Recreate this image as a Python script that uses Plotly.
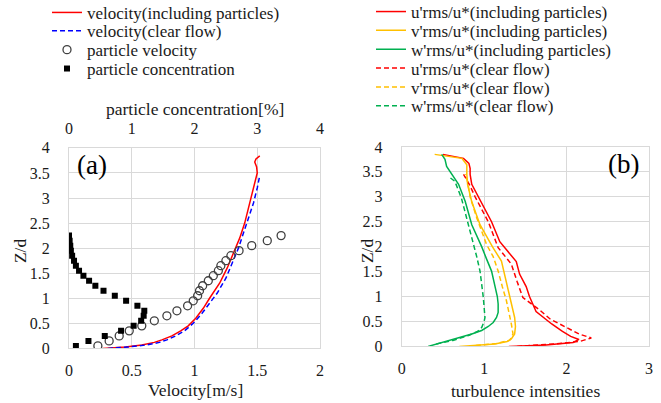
import plotly.graph_objects as go

# screenshot size; the figure is shifted TOP px above the window so the legends can sit at the very top
SW, SH = 661, 403
TOP = 6
W, H = SW, SH + TOP

# ---------------- Panel (a) data ----------------
z_vel_incl = [0.0, 0.03, 0.07, 0.12, 0.17, 0.25, 0.35, 0.45, 0.6, 0.8, 1.0, 1.3, 1.6, 1.9, 2.2, 2.5, 2.8, 3.1, 3.3, 3.5, 3.62, 3.72, 3.78, 3.84]
v_vel_incl = [0.27, 0.45, 0.58, 0.68, 0.74, 0.82, 0.89, 0.95, 1.01, 1.07, 1.12, 1.20, 1.26, 1.31, 1.36, 1.40, 1.43, 1.46, 1.485, 1.50, 1.495, 1.48, 1.49, 1.52]

z_vel_clear = [0.0, 0.03, 0.07, 0.12, 0.17, 0.25, 0.35, 0.5, 0.7, 0.9, 1.1, 1.4, 1.7, 2.0, 2.3, 2.6, 2.9, 3.2, 3.45]
v_vel_clear = [0.31, 0.48, 0.62, 0.72, 0.78, 0.85, 0.92, 0.99, 1.06, 1.12, 1.18, 1.25, 1.30, 1.35, 1.39, 1.43, 1.47, 1.50, 1.52]

z_particle = [0.05, 0.15, 0.25, 0.35, 0.45, 0.55, 0.65, 0.75, 0.85, 0.95, 1.05, 1.15, 1.25, 1.35, 1.45, 1.55, 1.65, 1.75, 1.85, 1.95, 2.05, 2.15, 2.25]
v_particle = [0.23, 0.32, 0.40, 0.48, 0.58, 0.68, 0.78, 0.86, 0.945, 0.99, 1.025, 1.04, 1.065, 1.11, 1.15, 1.19, 1.21, 1.25, 1.29, 1.355, 1.456, 1.58, 1.69]
c_particle = [0.11, 0.31, 0.57, 0.83, 1.03, 1.15, 1.19, 1.20, 1.09, 0.91, 0.73, 0.55, 0.42, 0.32, 0.23, 0.16, 0.11, 0.08, 0.05, 0.03, 0.02, 0.01, 0.0]

# ---------------- Panel (b) data ----------------
z_u_incl = [0.0, 0.03, 0.08, 0.14, 0.2, 0.3, 0.45, 0.6, 0.7, 0.85, 1.0, 1.2, 1.45, 1.7, 1.95, 2.1, 2.5, 3.0, 3.25, 3.45, 3.57, 3.67, 3.77, 3.85]
t_u_incl = [1.30, 1.75, 2.08, 2.15, 2.05, 1.95, 1.82, 1.70, 1.63, 1.59, 1.55, 1.51, 1.43, 1.39, 1.27, 1.19, 1.09, 0.93, 0.85, 0.83, 0.83, 0.815, 0.75, 0.50]

z_v_incl = [0.0, 0.02, 0.05, 0.1, 0.15, 0.25, 0.4, 0.58, 0.8, 1.12, 1.4, 1.71, 2.0, 2.44, 2.9, 3.24, 3.45, 3.64, 3.77, 3.85]
t_v_incl = [0.70, 0.85, 1.13, 1.28, 1.33, 1.37, 1.38, 1.37, 1.34, 1.29, 1.25, 1.21, 1.10, 0.95, 0.85, 0.80, 0.79, 0.79, 0.73, 0.40]

z_w_incl = [0.0, 0.05, 0.09, 0.14, 0.19, 0.25, 0.32, 0.4, 0.48, 0.58, 0.68, 0.85, 1.0, 1.25, 1.51, 1.75, 2.0, 2.44, 2.91, 3.25, 3.45, 3.61, 3.75, 3.85]
t_w_incl = [0.32, 0.43, 0.525, 0.63, 0.73, 0.85, 0.97, 1.05, 1.11, 1.15, 1.17, 1.17, 1.16, 1.13, 1.09, 1.03, 0.97, 0.85, 0.77, 0.69, 0.61, 0.545, 0.525, 0.485]

z_u_clear = [0.0, 0.05, 0.1, 0.17, 0.25, 0.38, 0.55, 0.72, 0.98, 1.3, 1.65, 1.98, 2.5, 3.0, 3.25, 3.45]
t_u_clear = [1.40, 1.85, 2.16, 2.30, 2.15, 2.0, 1.80, 1.68, 1.47, 1.40, 1.33, 1.17, 1.05, 0.89, 0.82, 0.75]

z_v_clear = [0.02, 0.06, 0.12, 0.25, 0.45, 0.7, 0.92, 1.2, 1.51, 1.8, 2.04, 2.58, 3.0, 3.3, 3.45]
t_v_clear = [0.90, 1.15, 1.31, 1.35, 1.33, 1.30, 1.27, 1.22, 1.17, 1.11, 1.03, 0.91, 0.83, 0.80, 0.77]

z_w_clear = [0.05, 0.12, 0.22, 0.3, 0.38, 0.5, 0.58, 0.8, 0.98, 1.25, 1.51, 1.8, 2.05, 2.57, 2.97, 3.31, 3.41]
t_w_clear = [0.42, 0.62, 0.81, 0.92, 0.97, 1.0, 1.01, 1.00, 0.99, 0.97, 0.95, 0.91, 0.87, 0.785, 0.725, 0.645, 0.565]

FONT = "Liberation Serif, Times New Roman, serif"
TXT = "#1a1a1a"
GRID = "#d9d9d9"
RED, BLUE, ORANGE, GREEN = "#FF0000", "#0000FF", "#FFC000", "#00B050"
DASH = "5px,3px"


def px(x):
    return x / W


def py(y):
    return 1 - (y + TOP) / H


fig = go.Figure()

# panel (a)
fig.add_trace(go.Scatter(x=v_vel_incl, y=z_vel_incl, mode="lines", name="velocity(including particles)",
                         line=dict(color=RED, width=1.5), xaxis="x", yaxis="y", legend="legend"))
fig.add_trace(go.Scatter(x=v_vel_clear, y=z_vel_clear, mode="lines", name="velocity(clear flow)",
                         line=dict(color=BLUE, width=1.5, dash=DASH), xaxis="x", yaxis="y", legend="legend2"))
fig.add_trace(go.Scatter(x=v_particle, y=z_particle, mode="markers", name="particle velocity",
                         marker=dict(symbol="circle-open", size=8, color="#404040", line=dict(width=1.3)),
                         xaxis="x", yaxis="y", legend="legend3"))
fig.add_trace(go.Scatter(x=c_particle, y=z_particle, mode="markers", name="particle concentration",
                         marker=dict(symbol="square", size=6, color="#000000"),
                         xaxis="x2", yaxis="y", legend="legend4"))

# panel (b)
series_b = [
    (t_u_incl, z_u_incl, "u'rms/u*(including particles)", RED, "solid"),
    (t_v_incl, z_v_incl, "v'rms/u*(including particles)", ORANGE, "solid"),
    (t_w_incl, z_w_incl, "w'rms/u*(including particles)", GREEN, "solid"),
    (t_u_clear, z_u_clear, "u'rms/u*(clear flow)", RED, DASH),
    (t_v_clear, z_v_clear, "v'rms/u*(clear flow)", ORANGE, DASH),
    (t_w_clear, z_w_clear, "w'rms/u*(clear flow)", GREEN, DASH),
]
for i, (xs, ys, nm, col, dsh) in enumerate(series_b):
    fig.add_trace(go.Scatter(x=xs, y=ys, mode="lines", name=nm,
                             line=dict(color=col, width=1.5, dash=dsh),
                             xaxis="x3", yaxis="y2", legend="legend%d" % (5 + i)))

# domains (screenshot pixel based)
ax_a = [px(69), px(320)]
ax_b = [px(401.7), px(649)]
ay_a = [py(348), py(146)]
ay_b = [py(346), py(145)]

tickfont = dict(family=FONT, size=16, color=TXT)
common = dict(showgrid=True, gridcolor=GRID, gridwidth=1, zeroline=False, showline=True,
              linecolor=GRID, linewidth=1, mirror=True, ticks="", tickfont=tickfont,
              automargin=False)

layout = dict(
    width=W, height=H, margin=dict(l=0, r=0, t=0, b=0),
    paper_bgcolor="white", plot_bgcolor="white",
    font=dict(family=FONT, color=TXT),
    xaxis=dict(domain=ax_a, range=[0, 2], dtick=0.5, anchor="y", ticklabelstandoff=7, **common),
    xaxis2=dict(range=[0, 4], dtick=1, overlaying="x", side="top", anchor="y",
                showgrid=False, zeroline=False, showline=False, ticks="", tickfont=tickfont,
                automargin=False, ticklabelstandoff=10),
    yaxis=dict(domain=ay_a, range=[0, 4], dtick=0.5, anchor="x", ticklabelstandoff=15, **common),
    xaxis3=dict(domain=ax_b, range=[0, 3], dtick=1, anchor="y2", ticklabelstandoff=7, **common),
    yaxis2=dict(domain=ay_b, range=[0, 4], dtick=0.5, anchor="x3", ticklabelstandoff=15, **common),
    showlegend=True,
)

# individual legends, one row each (to match the tight row spacing)
leg_font = dict(family=FONT, size=17, color=TXT)
rows_a = [15, 33.5, 52.5, 71.5]
rows_b = [14, 33, 52, 71, 90, 109]
for i, yy in enumerate(rows_a):
    key = "legend" if i == 0 else "legend%d" % (i + 1)
    layout[key] = dict(x=px(47), xanchor="left", y=py(yy - 5), yanchor="middle",
                       bgcolor="rgba(0,0,0,0)", borderwidth=0, font=leg_font)
for i, yy in enumerate(rows_b):
    key = "legend%d" % (5 + i)
    layout[key] = dict(x=px(371), xanchor="left", y=py(yy - 5), yanchor="middle",
                       bgcolor="rgba(0,0,0,0)", borderwidth=0, font=leg_font)

title_font = dict(family=FONT, size=17.5, color=TXT)
annotations = [
    dict(text="particle concentration[%]", x=px(195), y=py(107)),
    dict(text="Velocity[m/s]", x=px(195), y=py(389.5)),
    dict(text="turbulence intensities", x=px(525), y=py(391)),
    dict(text="Z/d", x=px(20), y=py(250), textangle=-90),
    dict(text="Z/d", x=px(367), y=py(250), textangle=-90),
]
ann = []
for a in annotations:
    d = dict(xref="paper", yref="paper", showarrow=False, xanchor="center", yanchor="middle",
             font=title_font)
    d.update(a)
    ann.append(d)
ann.append(dict(text="(a)", xref="paper", yref="paper", x=px(92), y=py(163), showarrow=False,
                xanchor="center", yanchor="middle", font=dict(family=FONT, size=27, color="#000")))
ann.append(dict(text="(b)", xref="paper", yref="paper", x=px(623), y=py(162), showarrow=False,
                xanchor="center", yanchor="middle", font=dict(family=FONT, size=27, color="#000")))
layout["annotations"] = ann

fig.update_layout(**layout)

post = ("document.body.style.margin='0';document.body.style.overflow='hidden';"
        "var gd=document.getElementById('{plot_id}');gd.style.marginTop='-%dpx';" % TOP)
fig.write_html("out.html", post_script=post, config={"displayModeBar": False})
